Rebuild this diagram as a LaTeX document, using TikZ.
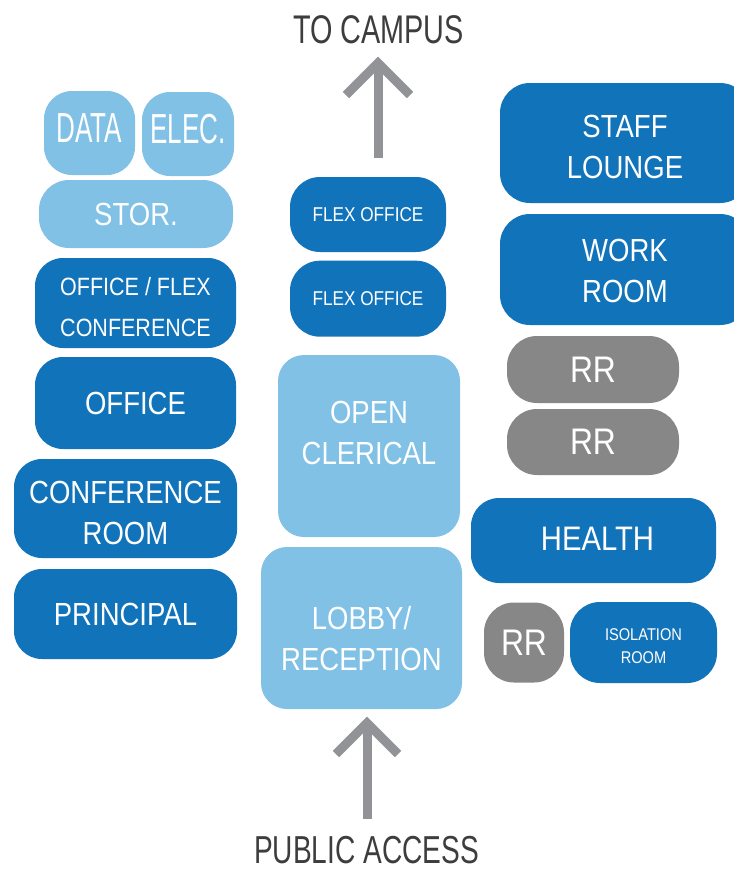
\documentclass[tikz,border=0pt]{standalone}
\usepackage{fontspec}
\setmainfont[FakeStretch=0.86]{Liberation Sans}
\newfontfamily\narrowfont[FakeStretch=0.62]{Liberation Sans}
\newfontfamily\labelfont[FakeStretch=0.72]{Liberation Sans}
\definecolor{dkblue}{HTML}{1173BA}
\definecolor{ltblue}{HTML}{80C1E5}
\definecolor{rrgray}{HTML}{878787}
\definecolor{arrgray}{HTML}{929397}
\definecolor{txtgray}{HTML}{3D3D3D}
\begin{document}
\begin{tikzpicture}[x=1pt,y=-1pt,
  room/.style={rounded corners=28pt, inner sep=0pt, align=center, text=white,
    font=\fontsize{32}{41}\selectfont},
  dark/.style={room, fill=dkblue},
  light/.style={room, fill=ltblue},
  rr/.style={room, fill=rrgray, font=\fontsize{37}{41}\selectfont},
  roomtxt/.style={inner sep=0pt, align=center, text=white, font=\fontsize{32}{41}\selectfont},
  sign/.style={inner sep=0pt, text=txtgray, anchor=base},
  arrowline/.style={draw=arrgray, line width=9pt, line join=miter, line cap=butt}
]
\clip (0,0) rectangle (734,871);
\fill[white] (0,0) rectangle (734,871);

% left column
\node[light, minimum width=91pt, minimum height=84pt,
  label={[roomtxt, font=\narrowfont\fontsize{42}{41}\selectfont, yshift=5pt]center:DATA}] (data) at (89.5,133) {};
\node[light, minimum width=92pt, minimum height=84pt,
  label={[roomtxt, font=\narrowfont\fontsize{42}{41}\selectfont, yshift=5pt]center:ELEC.}] (elec) at (188,134) {};
\node[light, rounded corners=30pt, minimum width=194pt, minimum height=68pt] (stor) at (136,214) {STOR.};
\node[dark, minimum width=201pt, minimum height=90pt,
  label={[roomtxt, font=\fontsize{25}{40.7}\selectfont, yshift=-4pt]center:OFFICE / FLEX\\CONFERENCE}] (offflex) at (135.5,303) {};
\node[dark, minimum width=201pt, minimum height=92pt] (office) at (135.5,403) {OFFICE};
\node[dark, minimum width=223pt, minimum height=99pt,
  label={[roomtxt, yshift=-4pt]center:CONFERENCE\\ROOM}] (conf) at (125.5,508.5) {};
\node[dark, minimum width=223pt, minimum height=90pt] (principal) at (125.5,614) {PRINCIPAL};

% center column
\node[dark, rounded corners=30pt, minimum width=156pt, minimum height=75pt, font=\fontsize{20}{24}\selectfont] (flex1) at (368,214.5) {FLEX OFFICE};
\node[dark, rounded corners=30pt, minimum width=156pt, minimum height=76pt, font=\fontsize{20}{24}\selectfont] (flex2) at (368,298.7) {FLEX OFFICE};
\node[light, rounded corners=26pt, minimum width=182pt, minimum height=182pt,
  label={[roomtxt, yshift=13pt]center:OPEN\\CLERICAL}] (clerical) at (369,446) {};
\node[light, rounded corners=26pt, minimum width=201pt, minimum height=162pt,
  label={[roomtxt, yshift=-11pt]center:LOBBY/\\RECEPTION}] (lobby) at (361.5,628) {};

% right column
\node[dark, rounded corners=30pt, minimum width=250pt, minimum height=120pt,
  label={[roomtxt, yshift=-3.5pt]center:STAFF\\LOUNGE}] (staff) at (625,143) {};
\node[dark, rounded corners=30pt, minimum width=250pt, minimum height=111pt,
  label={[roomtxt, yshift=-1pt]center:WORK\\ROOM}] (work) at (625,269.5) {};
\node[rr, rounded corners=30pt, minimum width=172pt, minimum height=67pt] (rr1) at (593,369.5) {RR};
\node[rr, rounded corners=30pt, minimum width=172pt, minimum height=66pt] (rr2) at (593,442) {RR};
\node[dark, minimum width=245pt, minimum height=85pt,
  label={[roomtxt, font=\fontsize{34}{41}\selectfont, xshift=4pt, yshift=2pt]center:HEALTH}] (health) at (593.5,540.5) {};
\node[rr, rounded corners=30pt, minimum width=80pt, minimum height=80pt] (rr3) at (524,642.5) {RR};
\node[dark, rounded corners=30pt, minimum width=147pt, minimum height=81pt,
  label={[roomtxt, font=\fontsize{17}{23.3}\selectfont, yshift=-3.5pt]center:ISOLATION\\ROOM}] (iso) at (643.5,642.5) {};

% signs
\node[sign, font=\labelfont\fontsize{40}{44}\selectfont] (campus) at (378.5,43) {TO CAMPUS};
\node[sign, font=\labelfont\fontsize{39}{44}\selectfont] (public) at (366.5,863) {PUBLIC ACCESS};

% arrows
\coordinate (upbase) at (378,158);
\coordinate (uptip) at (378,63);
\coordinate (upl) at (346,95);
\coordinate (upr) at (410,95);
\draw[arrowline] (upbase) -- (uptip);
\draw[arrowline] (upl) -- (uptip) -- (upr);

\coordinate (dnbase) at (367,819);
\coordinate (dntip) at (367,723);
\coordinate (dnl) at (336,754);
\coordinate (dnr) at (398,754);
\draw[arrowline] (dnbase) -- (dntip);
\draw[arrowline] (dnl) -- (dntip) -- (dnr);
\end{tikzpicture}
\end{document}
